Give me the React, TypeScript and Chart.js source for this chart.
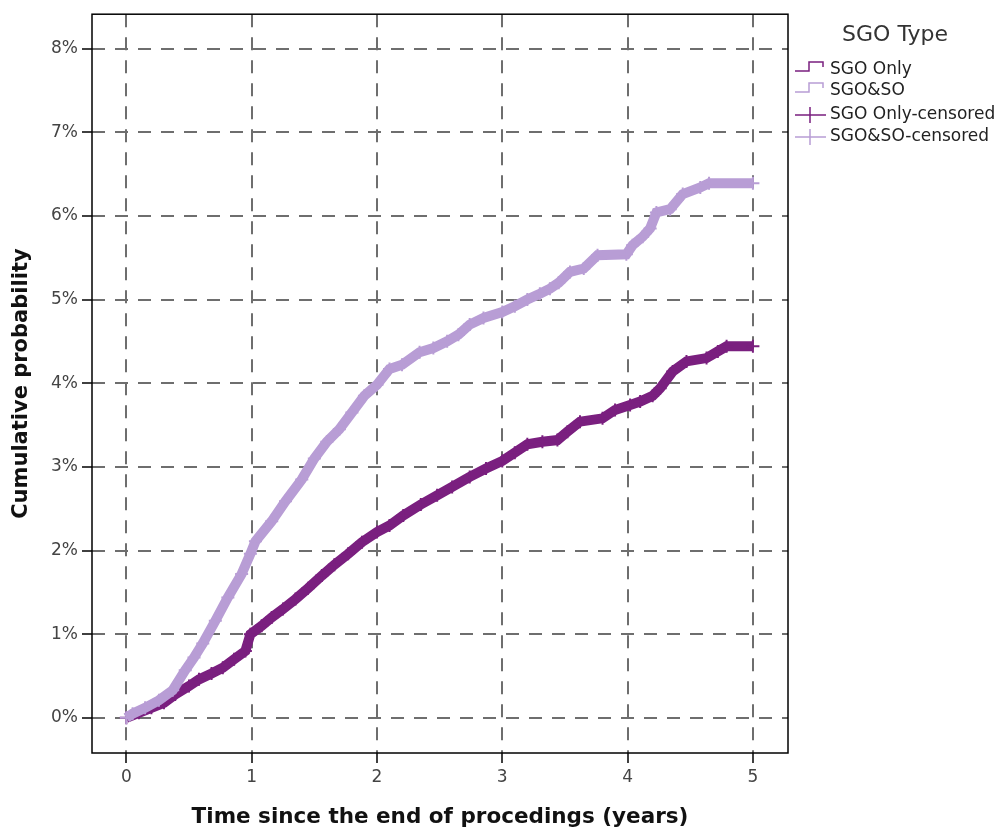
import React, { useEffect, useRef } from 'react';
import { Chart, registerables } from 'chart.js';

Chart.register(...registerables);

// ---------- data ----------
const LEGEND_TITLE = 'SGO Type';
const SERIES_NAMES = ['SGO Only', 'SGO&SO'];
const CENSOR_NAMES = ['SGO Only-censored', 'SGO&SO-censored'];
const X_TITLE = 'Time since the end of procedings (years)';
const Y_TITLE = 'Cumulative probability';
const X_TICKS = [0, 1, 2, 3, 4, 5];
const Y_TICKS = [0, 1, 2, 3, 4, 5, 6, 7, 8];

// SGO Only (dark purple): time in years, cumulative probability in %
const SGO_ONLY_T = [0, 0.1, 0.2, 0.3, 0.39, 0.5, 0.58, 0.68, 0.77, 0.86, 0.95, 0.99, 1.08, 1.16, 1.25, 1.35, 1.45, 1.56, 1.66, 1.77, 1.88, 2.0, 2.1, 2.21, 2.35, 2.48, 2.6, 2.74, 2.87, 3.0, 3.1, 3.2, 3.32, 3.44, 3.52, 3.62, 3.8, 3.9, 4.02, 4.1, 4.2, 4.26, 4.36, 4.47, 4.63, 4.72, 4.79, 5.0];
const SGO_ONLY_P = [0, 0.06, 0.12, 0.18, 0.28, 0.38, 0.46, 0.53, 0.6, 0.7, 0.8, 1.0, 1.1, 1.2, 1.3, 1.42, 1.55, 1.7, 1.83, 1.96, 2.1, 2.22, 2.3, 2.42, 2.55, 2.66, 2.76, 2.88, 2.98, 3.07, 3.17, 3.27, 3.3, 3.32, 3.42, 3.54, 3.58, 3.68, 3.74, 3.78, 3.85, 3.94, 4.14, 4.26, 4.3, 4.38, 4.44, 4.44];

// SGO&SO (light purple)
const SGO_SO_T = [0, 0.05, 0.15, 0.26, 0.37, 0.47, 0.54, 0.61, 0.71, 0.81, 0.92, 0.99, 1.03, 1.16, 1.27, 1.4, 1.5, 1.6, 1.7, 1.8, 1.9, 2.0, 2.1, 2.2, 2.34, 2.45, 2.56, 2.65, 2.74, 2.85, 3.0, 3.1, 3.2, 3.3, 3.38, 3.45, 3.54, 3.65, 3.76, 3.99, 4.04, 4.12, 4.18, 4.23, 4.34, 4.44, 4.58, 4.65, 5.0];
const SGO_SO_P = [0, 0.05, 0.12, 0.21, 0.33, 0.57, 0.72, 0.89, 1.16, 1.44, 1.72, 1.96, 2.11, 2.35, 2.59, 2.85, 3.1, 3.3, 3.45, 3.65, 3.85, 3.98, 4.17, 4.22, 4.37, 4.42, 4.5, 4.58, 4.7, 4.78, 4.85, 4.92, 5.0, 5.07, 5.13, 5.2, 5.33, 5.37, 5.53, 5.54, 5.65, 5.75, 5.85, 6.04, 6.08, 6.26, 6.34, 6.39, 6.39];

const DARK = '#7a1f7f';
const LIGHT = '#b89dd5';

const toPoints = (t: number[], p: number[]) => t.map((x, i) => ({ x, y: p[i] }));

const frameAndLegend = {
  id: 'frameAndLegend',
  afterDatasetsDraw(chart: any) {
    const { ctx, chartArea } = chart;
    ctx.save();
    ctx.setLineDash([]);
    ctx.strokeStyle = '#000';
    ctx.lineWidth = 1.5;
    ctx.strokeRect(chartArea.left, chartArea.top, chartArea.right - chartArea.left, chartArea.bottom - chartArea.top);
    ctx.restore();
  },
  afterDraw(chart: any) {
    const { ctx } = chart;
    ctx.save();
    ctx.setLineDash([]);
    ctx.fillStyle = '#333';
    ctx.font = '22px "DejaVu Sans"';
    ctx.textAlign = 'center';
    ctx.textBaseline = 'middle';
    ctx.fillText(LEGEND_TITLE, 895, 35);

    ctx.font = '17px "DejaVu Sans"';
    ctx.textAlign = 'left';
    ctx.fillStyle = '#222';
    const colors = [DARK, LIGHT];
    const stepRows = [70, 91];
    stepRows.forEach((y, i) => {
      ctx.strokeStyle = colors[i];
      ctx.lineWidth = 1.5;
      ctx.beginPath();
      ctx.moveTo(795, y + 1);
      ctx.lineTo(809, y + 1);
      ctx.lineTo(809, y - 8);
      ctx.lineTo(823, y - 8);
      ctx.lineTo(823, y - 3);
      ctx.stroke();
      ctx.fillText(SERIES_NAMES[i], 830, y);
    });
    const censRows = [115, 137];
    censRows.forEach((y, i) => {
      ctx.strokeStyle = colors[i];
      ctx.lineWidth = 1.5;
      ctx.beginPath();
      ctx.moveTo(795, y);
      ctx.lineTo(826, y);
      ctx.moveTo(810, y - 8);
      ctx.lineTo(810, y + 8);
      ctx.stroke();
      ctx.fillText(CENSOR_NAMES[i], 830, y);
    });
    ctx.restore();
  },
};

export default function App() {
  const ref = useRef<HTMLCanvasElement | null>(null);

  useEffect(() => {
    if (!ref.current) return;
    const tickFont = { family: '"DejaVu Sans"', size: 17 };
    const seriesStyle = (color: string) => ({
      borderColor: color,
      backgroundColor: color,
      borderWidth: 10,
      borderJoinStyle: 'miter',
      stepped: false,
      tension: 0,
      pointStyle: 'cross',
      pointRadius: 6.5,
      pointBorderWidth: 2,
      pointBorderColor: color,
      fill: false,
    });
    const chart = new Chart(ref.current, {
      type: 'line',
      data: {
        datasets: [
          { label: SERIES_NAMES[1], data: toPoints(SGO_SO_T, SGO_SO_P), ...seriesStyle(LIGHT) },
          { label: SERIES_NAMES[0], data: toPoints(SGO_ONLY_T, SGO_ONLY_P), ...seriesStyle(DARK) },
        ],
      },
      options: {
        animation: false,
        responsive: false,
        devicePixelRatio: 1,
        layout: { padding: { left: 0, right: 213, top: 11, bottom: 0 } },
        plugins: { legend: { display: false }, tooltip: { enabled: false } },
        scales: {
          x: {
            type: 'linear',
            min: -0.274,
            max: 5.28,
            afterFit: (s: any) => { s.height = 82; },
            afterBuildTicks: (s: any) => { s.ticks = X_TICKS.map((v) => ({ value: v })); },
            ticks: { color: '#444', font: tickFont, padding: 4, callback: (v: any) => String(v) },
            grid: {
              color: '#6e6e6e',
              lineWidth: 2,
              tickColor: '#000',
              tickWidth: 1.5,
              tickLength: 10,
              tickBorderDash: [],
            },
            border: { display: false, dash: [13, 10] },
            title: {
              display: true,
              text: X_TITLE,
              color: '#111',
              font: { family: '"DejaVu Sans"', size: 21.5, weight: 'bold' },
              padding: { top: 0, bottom: 5 },
            },
          },
          y: {
            type: 'linear',
            min: -0.42,
            max: 8.41,
            afterFit: (s: any) => { s.width = 92; },
            afterBuildTicks: (s: any) => { s.ticks = Y_TICKS.map((v) => ({ value: v })); },
            ticks: { color: '#444', font: tickFont, padding: 4, callback: (v: any) => v + '%' },
            grid: {
              color: '#6e6e6e',
              lineWidth: 2,
              tickColor: '#000',
              tickWidth: 1.5,
              tickLength: 10,
              tickBorderDash: [],
            },
            border: { display: false, dash: [13, 10] },
            title: {
              display: true,
              text: Y_TITLE,
              color: '#111',
              font: { family: '"DejaVu Sans"', size: 21, weight: 'bold' },
              padding: { top: 9, bottom: 0 },
            },
          },
        },
      },
      plugins: [frameAndLegend],
    } as any);
    return () => chart.destroy();
  }, []);

  return (
    <div style={{ position: 'absolute', left: 0, top: 0, width: 1001, height: 835, background: '#fff' }}>
      <canvas ref={ref} width={1001} height={835} style={{ display: 'block', width: 1001, height: 835 }} />
    </div>
  );
}
